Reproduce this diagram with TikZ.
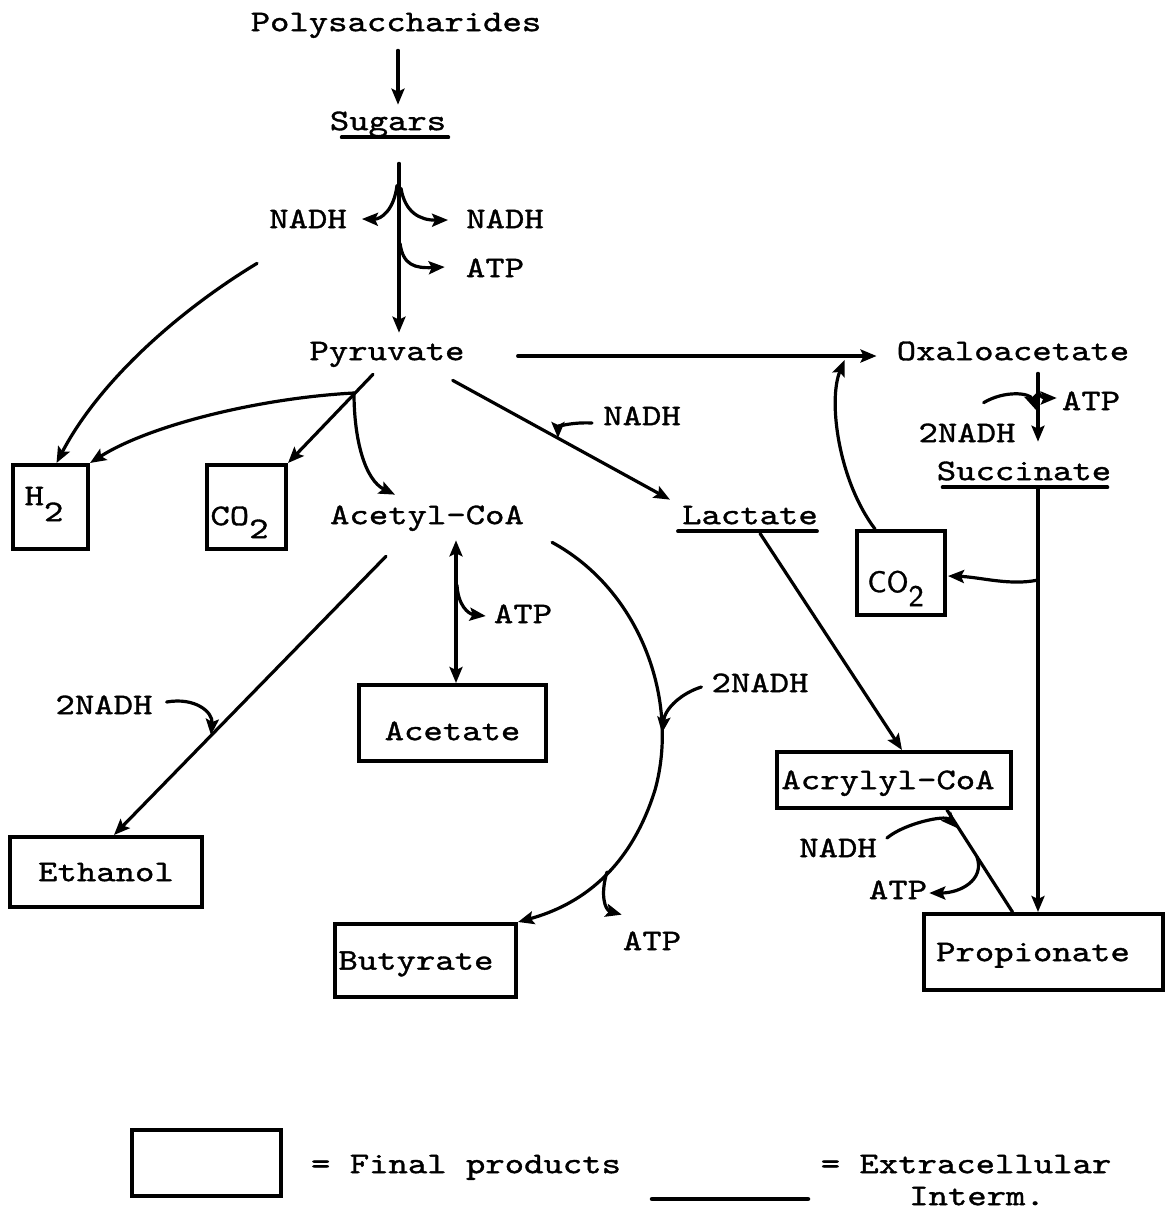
\documentclass[tikz,border=0pt]{standalone}
\usepackage{fontspec}
\newfontfamily\tyfont{lmmono10-regular.otf}[FakeStretch=1.23,FakeBold=1.2]
\newfontfamily\sansfnt{lmsans10-regular.otf}[FakeBold=1]
\usetikzlibrary{arrows.meta,calc}
\begin{document}
\begin{tikzpicture}[x=1pt,y=-1pt,
  every node/.style={font=\tyfont\fontsize{30}{36}\selectfont},
  lbl/.style={inner sep=0pt,text height=18.3pt,text depth=0pt},
  box/.style={draw,line width=4pt,inner sep=0pt,text height=18.3pt,text depth=0pt},
  ln/.style={line width=3.2pt,line cap=round},
  tip/.tip={Stealth[length=16pt,width=13pt,inset=3pt]},
  arr/.style={ln,-tip},
  uline/.style={line width=3.8pt,line cap=round},
]
\fill[white] (0,0) rectangle (1172,1211);
\useasboundingbox (0,0) rectangle (1172,1211);

% ---- text nodes
\node[lbl] (poly) at (396,22) {Polysaccharides};
\node[lbl] (sug) at (388,121) {Sugars};
\node[lbl] (nadhL) at (308,219) {NADH};
\node[lbl] (nadhR) at (505,219) {NADH};
\node[lbl] (atp1) at (495,268) {ATP};
\node[lbl] (pyr) at (387,351) {Pyruvate};
\node[lbl] (oxa) at (1013,351) {Oxaloacetate};
\node[lbl] (nadhM) at (642,416) {NADH};
\node[lbl] (atp2) at (1091,401) {ATP};
\node[lbl] (nadh2a) at (967,433) {2NADH};
\node[lbl] (suc) at (1024,471) {Succinate};
\node[lbl] (lac) at (750,515) {Lactate};
\node[lbl] (acc) at (427,515) {Acetyl-CoA};
\node[lbl] (atp3) at (523,614) {ATP};
\node[lbl] (nadh2b) at (104,705) {2NADH};
\node[lbl] (nadh2c) at (760,683) {2NADH};
\node[lbl] (atp4) at (652,941) {ATP};
\node[lbl] (nadhA) at (838,848) {NADH};
\node[lbl] (atp5) at (898,890) {ATP};

% ---- boxes (final products)
\node[box,minimum width=75,minimum height=84] (h2) at (50.5,507) {\raisebox{11pt}{H\raisebox{-16pt}{2}}\hspace*{13pt}};
\node[box,minimum width=79,minimum height=84] (co2l) at (246.5,507) {\raisebox{-9pt}{CO\raisebox{-13pt}{2}}\hspace*{14pt}};
\node[box,minimum width=88,minimum height=84] (co2r) at (901,573) {{\sansfnt\raisebox{-10pt}{CO\raisebox{-14pt}{2}}}\hspace*{11pt}};
\node[box,minimum width=187,minimum height=76] (ace) at (452.5,723) {\raisebox{-8pt}{Acetate}};
\node[box,minimum width=192,minimum height=70] (eth) at (106,872) {Ethanol};
\node[box,minimum width=181,minimum height=73] (but) at (425.5,960.5) {Butyrate\hspace*{19pt}};
\node[box,minimum width=234,minimum height=56] (acr) at (894,780) {Acrylyl-CoA\hspace*{12pt}};
\node[box,minimum width=239,minimum height=76] (prop) at (1043.5,952) {Propionate\hspace*{21pt}};

% ---- underlines (extracellular intermediates)
\draw[uline] ($(sug.south west)+(12,7)$) -- ($(sug.south east)+(2,7)$);
\draw[uline] ($(lac.south west)+(-4,7)$) -- ($(lac.south east)+(-1,7)$);
\draw[uline] ($(suc.south west)+(6,7)$) -- ($(suc.south east)+(-4,7)$);

% ---- Polysaccharides -> Sugars -> Pyruvate
\draw[arr] ($(poly.south)+(2,19)$) -- ($(sug.north)+(10,-7)$);
\coordinate (fk) at ($(sug.south)+(11,33)$);
\draw[arr] (fk) -- ($(pyr.north)+(12,-9)$);
\draw[arr] ($(fk)+(-2,22)$) .. controls ($(fk)+(-5,47)$) and ($(fk)+(-18,56)$) .. ($(nadhL.east)+(15,0)$);
\draw[arr] ($(fk)+(2,25)$) .. controls ($(fk)+(6,49)$) and ($(fk)+(21,57)$) .. ($(nadhR.west)+(-18,1)$);
\draw[arr] ($(fk)+(1,80)$) .. controls ($(fk)+(4,102)$) and ($(fk)+(16,105)$) .. ($(atp1.west)+(-21,-1)$);

% ---- NADH -> H2
\draw[arr] ($(nadhL.south west)+(-12,35)$) .. controls (180,310) and (100,380) .. ($(h2.north)+(6,0)$);

% ---- Pyruvate -> H2, CO2, Acetyl-CoA
\coordinate (pb) at (354,393);
\draw[arr] ($(pyr.south)+(-14,14)$) -- (co2l.north east);
\draw[arr] (pb) .. controls (260,398) and (150,425) .. (h2.north east);
\draw[arr] (pb) .. controls (354,440) and (365,480) .. ($(acc.north)+(-32,-11)$);

% ---- Pyruvate -> Oxaloacetate, CO2 -> Oxaloacetate
\draw[arr] ($(pyr.east)+(53,5)$) -- ($(oxa.west)+(-20,5)$);
\draw[arr] ($(co2r.north west)+(20,0)$) .. controls (838,480) and (828,400) .. ($(oxa.west)+(-52,9)$);

% ---- Pyruvate -> Lactate
\draw[arr] ($(pyr.south east)+(-12,20)$) -- ($(lac.north west)+(-12,-6)$);
\draw[arr] ($(nadhM.west)+(-11,7)$) .. controls (570,422) and (558,427) .. (558,438);

% ---- Oxaloacetate -> Succinate
\draw[arr] ($(oxa.south)+(25,13)$) -- ($(suc.north)+(14,-20)$);
\coordinate (ov) at (1038,389);
\draw[arr] (ov) .. controls (1039,398) and (1045,398) .. ($(atp2.west)+(-5,-3)$);
\draw[arr] ($(nadh2a.north east)+(-32,-21)$) .. controls (1005,390) and (1030,393) .. (1036,410);

% ---- Succinate -> Propionate, -> CO2
\coordinate (sv) at ($(suc.south)+(14,8)$);
\draw[arr] (sv) -- (sv |- prop.north);
\coordinate (sc) at (1038,580);
\draw[arr] (sc) .. controls (1010,586) and (980,577) .. ($(co2r.east)+(1,3)$);

% ---- Lactate -> Acrylyl-CoA -> Propionate
\draw[arr] ($(lac.south)+(10,9)$) -- ($(acr.north)+(8,0)$);
\draw[ln] ($(acr.south)+(53,0)$) -- ($(prop.north)+(-31,0)$);
\draw[arr] ($(nadhA.east)+(10,-10)$) .. controls (905,823) and (945,815) .. (957,828);
\draw[arr] (977,857) .. controls (985,880) and (960,893) .. ($(atp5.east)+(2,3)$);

% ---- Acetyl-CoA <-> Acetate
\coordinate (av) at ($(acc.south)+(29,16)$);
\draw[ln,tip-tip] (av) -- (av |- ace.north);
\draw[arr] (457,585) .. controls (458,605) and (468,614) .. ($(atp3.west)+(-8,2)$);

% ---- Acetyl-CoA -> Ethanol
\draw[arr] ($(acc.south west)+(56,32)$) -- ($(eth.north west)+(106,0)$);
\draw[arr] ($(nadh2b.east)+(14,-3)$) .. controls (195,697) and (213,712) .. (211,735);

% ---- Acetyl-CoA -> Butyrate
\draw[arr] ($(acc.south east)+(28,18)$) .. controls (640,590) and (680,700) .. (655,790) .. controls (630,870) and (580,905) .. (but.north east);
\draw[arr] ($(nadh2c.west)+(-10,4)$) .. controls (682,693) and (665,708) .. (662,733);
\draw[arr] (607,872) .. controls (600,895) and (605,910) .. ($(atp4.north west)+(-1,-17)$);

% ---- legend
\node[box,minimum width=149,minimum height=66] (lgbox) at (206.5,1163) {};
\node[lbl] (lgA) at (466,1164) {= Final products};
\node[lbl] (lgB) at (966,1164) {= Extracellular};
\node[lbl] (lgC) at (977,1196) {Interm.};
\coordinate (lgl) at (652,1199);
\coordinate (lgr) at (808,1199);
\draw[uline,line width=4.5pt] (lgl) -- (lgr);
\end{tikzpicture}
\end{document}
